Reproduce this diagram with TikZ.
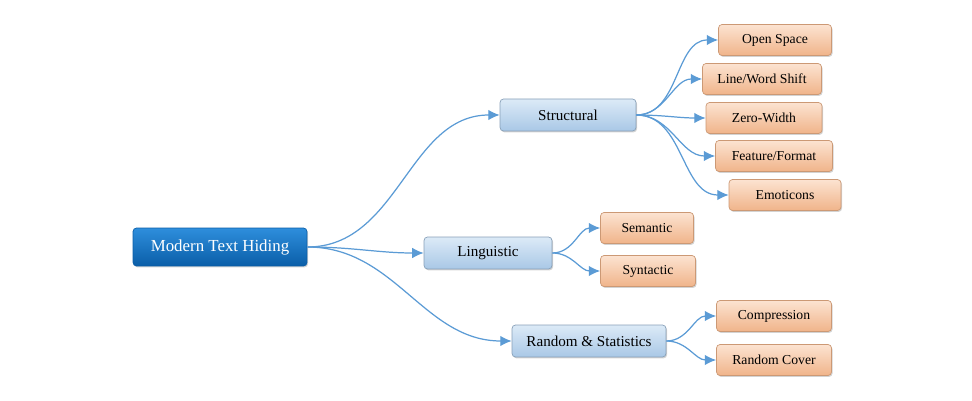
\documentclass[tikz,border=0pt]{standalone}
\usepackage{fontspec}
\setmainfont{Liberation Serif}
\usetikzlibrary{arrows.meta,shadows}

\definecolor{linkblue}{HTML}{5B9BD5}
\definecolor{roottop}{HTML}{2E8EDC}
\definecolor{rootbot}{HTML}{0A5EA8}
\definecolor{midtop}{HTML}{DCEAF7}
\definecolor{midbot}{HTML}{A9C8E6}
\definecolor{leaftop}{HTML}{FCE3D1}
\definecolor{leafbot}{HTML}{F0B48A}

\begin{document}
\begin{tikzpicture}[x=0.02cm,y=-0.02cm,
  box/.style={rounded corners=2pt, inner sep=0pt, font=\fontsize{7.8}{9}\selectfont,
    drop shadow={shadow xshift=0.6pt, shadow yshift=-0.8pt, opacity=0.35}},
  rootbox/.style={box, draw=rootbot, top color=roottop, bottom color=rootbot,
    text=white, font=\fontsize{9.6}{11}\selectfont, minimum width=3.48cm, minimum height=0.76cm},
  topicbox/.style={box, draw=midbot!80!black, top color=midtop, bottom color=midbot,
    font=\fontsize{8.6}{10}\selectfont, minimum height=0.64cm},
  leafbox/.style={box, draw=leafbot!85!black, top color=leaftop, bottom color=leafbot,
    minimum height=0.62cm},
  link/.style={draw=linkblue, line width=0.7pt, -{Latex[length=6.5pt,width=6pt]}}]

  \useasboundingbox (0,0) rectangle (972,401);

  \node[rootbox] (hiding) at (220,247) {Modern Text Hiding};

  \node[topicbox, minimum width=2.72cm] (structural) at (568,115) {Structural};
  \node[topicbox, minimum width=2.56cm] (linguistic) at (488,253) {Linguistic};
  \node[topicbox, minimum width=3.08cm] (random) at (589,341) {Random \& Statistics};

  \node[leafbox, minimum width=2.26cm] (openspace) at (775,40) {Open Space};
  \node[leafbox, minimum width=2.38cm] (lineword) at (762,79) {Line/Word Shift};
  \node[leafbox, minimum width=2.32cm] (zerowidth) at (764,118) {Zero-Width};
  \node[leafbox, minimum width=2.34cm] (feature) at (774,156) {Feature/Format};
  \node[leafbox, minimum width=2.24cm] (emoticons) at (785,195) {Emoticons};

  \node[leafbox, minimum width=1.86cm] (semantic) at (647,228) {Semantic};
  \node[leafbox, minimum width=1.90cm] (syntactic) at (648,271) {Syntactic};

  \node[leafbox, minimum width=2.30cm] (compression) at (774,316) {Compression};
  \node[leafbox, minimum width=2.30cm] (randcover) at (774,360) {Random Cover};

  \draw[link] (hiding.east) to[out=0,in=180] (structural.west);
  \draw[link] (hiding.east) to[out=0,in=180] (linguistic.west);
  \draw[link] (hiding.east) to[out=0,in=180] (random.west);

  \foreach \leaf in {openspace,lineword,zerowidth,feature,emoticons}
    \draw[link] (structural.east) to[out=0,in=180] (\leaf.west);
  \foreach \leaf in {semantic,syntactic}
    \draw[link] (linguistic.east) to[out=0,in=180] (\leaf.west);
  \foreach \leaf in {compression,randcover}
    \draw[link] (random.east) to[out=0,in=180] (\leaf.west);

\end{tikzpicture}
\end{document}
